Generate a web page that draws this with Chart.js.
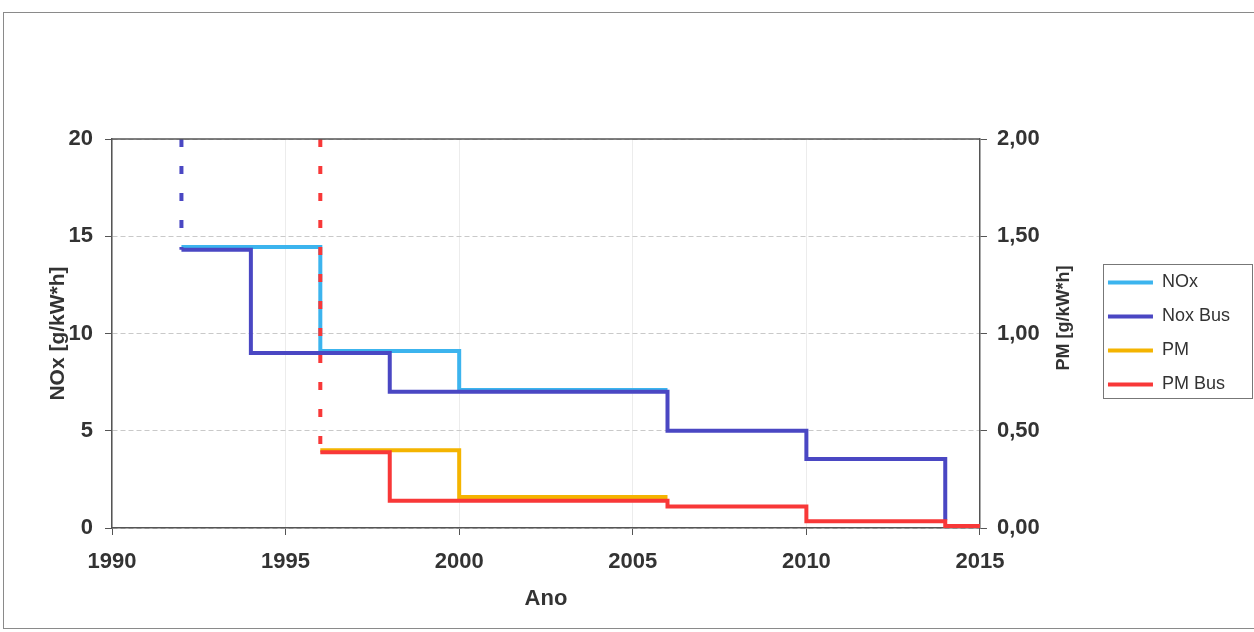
<!DOCTYPE html>
<html>
<head>
<meta charset="utf-8">
<script src="https://cdn.jsdelivr.net/npm/chart.js@4"></script>
<style>
  html, body { margin: 0; padding: 0; background: #fff; }
  #wrap { width: 1254px; height: 632px; position: relative; }
</style>
</head>
<body>
<div id="wrap"><canvas id="myChart" width="1254" height="632"></canvas></div>
<script>
// values (steps: value holds from that year until the next one)
const xTickYears = [1990, 1995, 2000, 2005, 2010, 2015];
const noxTicks = [0, 5, 10, 15, 20];
const pmTicks = [0, 0.5, 1, 1.5, 2];

const noxYears = [1992, 1996, 2000, 2006];
const noxValues = [14.45, 9.1, 7.1, 7.1];

const noxBusYears = [1992, 1992, 1994, 1998, 2006, 2010, 2014];
const noxBusValues = [20, 14.3, 9.0, 7.0, 5.0, 3.55, 0.4];

const pmYears = [1996, 2000, 2006];
const pmValues = [0.40, 0.16, 0.16];

const pmBusYears = [1996, 1996, 1998, 2006, 2010, 2014, 2015];
const pmBusValues = [2.0, 0.39, 0.14, 0.11, 0.035, 0.01, 0.01];

const FONT = "'Liberation Sans', Arial, sans-serif";
const DASH = [8, 19];

const toPoints = (xs, ys) => xs.map((x, i) => ({ x: x, y: ys[i] }));
const firstDashed = ctx => ctx.p0DataIndex === 0 ? DASH : undefined;

const frame = {
  id: 'frame',
  afterDraw(chart) {
    const c = chart.ctx;
    const a = chart.chartArea;
    c.save();
    // outer border of the whole picture
    c.strokeStyle = '#8a8a8a';
    c.lineWidth = 1;
    c.strokeRect(3.5, 12.5, 1260, 616);
    // top edge of plot area
    c.strokeStyle = '#555';
    c.lineWidth = 1.5;
    c.beginPath();
    c.moveTo(a.left, a.top);
    c.lineTo(a.right, a.top);
    c.stroke();
    // legend box
    const hb = chart.legend.legendHitBoxes;
    if (hb && hb.length) {
      const last = hb[hb.length - 1];
      const l = hb[0].left - 5;
      const t = hb[0].top - 10;
      const b = last.top + last.height + 4;
      c.strokeStyle = '#777';
      c.lineWidth = 1;
      c.strokeRect(Math.round(l) + 0.5, Math.round(t) + 0.5, 1252 - Math.round(l), Math.round(b - t));
    }
    // right axis title, reading upwards like the left one
    c.translate(1064, 318);
    c.rotate(-Math.PI / 2);
    c.fillStyle = '#333';
    c.font = 'bold 18px ' + FONT;
    c.textAlign = 'center';
    c.textBaseline = 'middle';
    c.fillText('PM [g/kW*h]', 0, 0);
    c.restore();
  }
};

const ctx = document.getElementById('myChart');

new Chart(ctx, {
  type: 'line',
  data: {
    datasets: [
      {
        label: 'NOx',
        data: toPoints(noxYears, noxValues),
        borderColor: '#3cb4ee',
        backgroundColor: '#3cb4ee',
        yAxisID: 'y',
        order: 4
      },
      {
        label: 'Nox Bus',
        data: toPoints(noxBusYears, noxBusValues),
        borderColor: '#4a47c3',
        backgroundColor: '#4a47c3',
        yAxisID: 'y',
        segment: { borderDash: firstDashed },
        order: 2
      },
      {
        label: 'PM',
        data: toPoints(pmYears, pmValues),
        borderColor: '#f4b400',
        backgroundColor: '#f4b400',
        yAxisID: 'y1',
        order: 3
      },
      {
        label: 'PM Bus',
        data: toPoints(pmBusYears, pmBusValues),
        borderColor: '#f83838',
        backgroundColor: '#f83838',
        yAxisID: 'y1',
        segment: { borderDash: firstDashed },
        order: 1
      }
    ]
  },
  options: {
    responsive: false,
    animation: false,
    datasets: {
      line: {
        stepped: 'before',
        borderWidth: 4,
        pointRadius: 0,
        fill: false,
        tension: 0
      }
    },
    layout: { padding: { left: 0, top: 139, right: 14, bottom: 0 } },
    plugins: {
      tooltip: { enabled: false },
      legend: {
        position: 'right',
        align: 'center',
        fullSize: false,
        labels: {
          usePointStyle: true,
          pointStyle: 'line',
          pointStyleWidth: 45,
          padding: 16,
          color: '#333',
          font: { family: FONT, size: 18 },
          sort: (a, b) => a.datasetIndex - b.datasetIndex
        }
      }
    },
    scales: {
      x: {
        type: 'linear',
        min: xTickYears[0],
        max: xTickYears[xTickYears.length - 1],
        afterBuildTicks: s => { s.ticks = xTickYears.map(v => ({ value: v })); },
        afterFit: s => { s.height = 104; },
        ticks: {
          padding: 14,
          color: '#333',
          font: { family: FONT, size: 22, weight: 'bold' },
          callback: v => String(v)
        },
        grid: { color: '#ececec', tickColor: '#555', tickLength: 7 },
        border: { color: '#555', width: 1.5 },
        title: {
          display: true,
          text: 'Ano',
          color: '#333',
          font: { family: FONT, size: 22, weight: 'bold' },
          padding: { top: 0, bottom: 20 }
        }
      },
      y: {
        position: 'left',
        min: 0,
        max: 20,
        afterBuildTicks: s => { s.ticks = noxTicks.map(v => ({ value: v })); },
        afterFit: s => { s.width = 112; },
        ticks: {
          padding: 12,
          color: '#333',
          font: { family: FONT, size: 22, weight: 'bold' }
        },
        grid: { color: '#c9c9c9', tickColor: '#555', tickLength: 7 },
        border: { color: '#555', width: 1.5, dash: [5, 3] },
        title: {
          display: true,
          text: 'NOx [g/kW*h]',
          color: '#333',
          font: { family: FONT, size: 21, weight: 'bold' },
          padding: { top: 46, bottom: 0 }
        }
      },
      y1: {
        position: 'right',
        min: 0,
        max: 2,
        afterBuildTicks: s => { s.ticks = pmTicks.map(v => ({ value: v })); },
        afterFit: s => { s.width = 112; },
        ticks: {
          padding: 10,
          color: '#333',
          font: { family: FONT, size: 22, weight: 'bold' },
          callback: v => v.toFixed(2).replace('.', ',')
        },
        grid: { drawOnChartArea: false, tickColor: '#555', tickLength: 7 },
        border: { color: '#555', width: 1.5 }
      }
    }
  },
  plugins: [frame]
});
</script>
</body>
</html>
